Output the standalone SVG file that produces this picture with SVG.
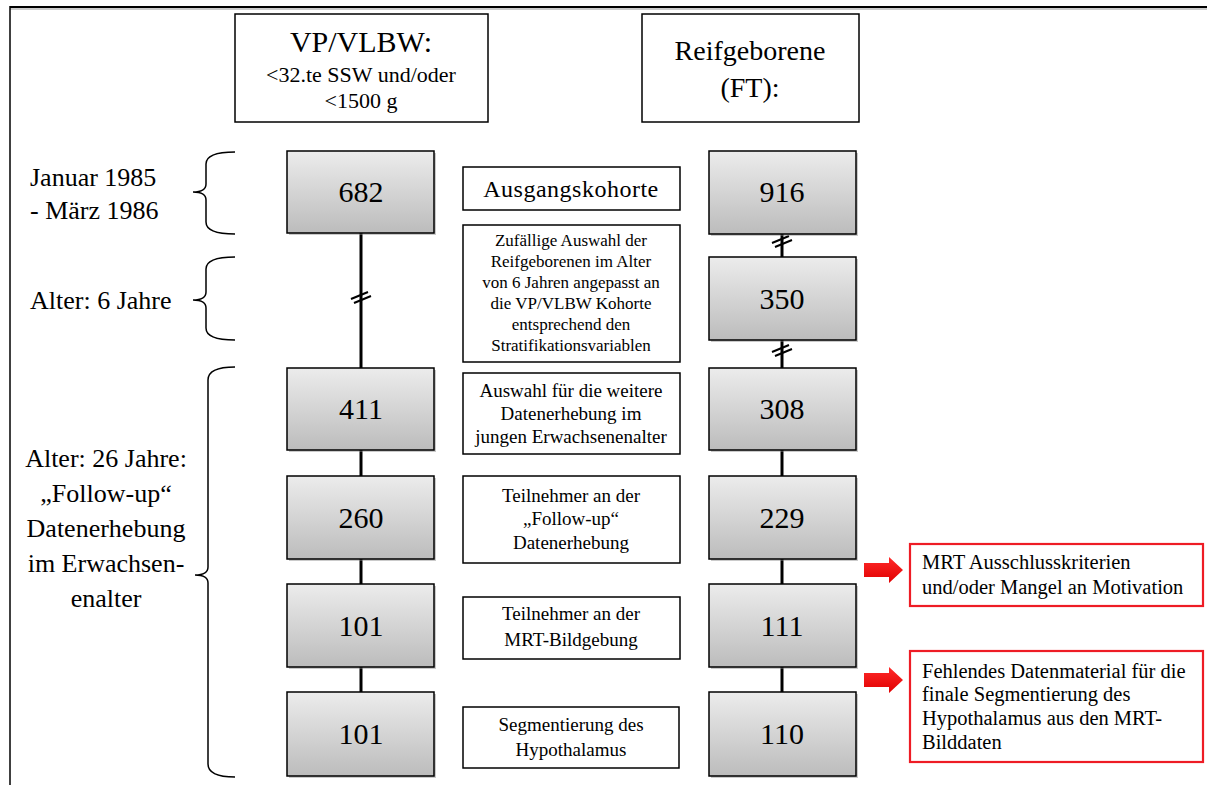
<svg xmlns="http://www.w3.org/2000/svg" width="1207" height="785" viewBox="0 0 1207 785">
<defs>
<linearGradient id="g" x1="0" y1="0" x2="0" y2="1">
<stop offset="0" stop-color="#ececec"/>
<stop offset="1" stop-color="#bcbcbc"/>
</linearGradient>
<linearGradient id="rg" x1="0" y1="0" x2="0" y2="1">
<stop offset="0" stop-color="#ff2a2a"/>
<stop offset="1" stop-color="#e00000"/>
</linearGradient>
</defs>
<style>
text{font-family:"Liberation Serif","Times New Roman",serif;fill:#000}
.num{font-size:30px;text-anchor:middle}
.hdr{fill:#fff;stroke:#000;stroke-width:1.5}
.gbox{fill:url(#g);stroke:#000;stroke-width:1.5}
.sh{fill:#8a8a8a;opacity:0.45}
.tbox{fill:#fff;stroke:#000;stroke-width:1.5}
.rbox{fill:#fff;stroke:#ee1c25;stroke-width:2.2}
.mid{text-anchor:middle}
.lbl{font-size:26px}
.br{fill:none;stroke:#000;stroke-width:1.5}
.con{stroke:#000;stroke-width:3;fill:none}
.brk{stroke:#000;stroke-width:2;fill:none}
.arr{fill:url(#rg)}
</style>
<rect width="1207" height="785" fill="#fff"/>
<g id="frame">
<line x1="10" y1="7" x2="1207" y2="7" stroke="#000" stroke-width="2"/>
<line x1="10" y1="9" x2="1207" y2="9" stroke="#999" stroke-width="1"/>
<line x1="10" y1="6" x2="10" y2="785" stroke="#000" stroke-width="1.5"/>
</g>
<g id="connectors">
<line class="con" x1="361" y1="233" x2="361" y2="368"/>
<line class="con" x1="361" y1="450" x2="361" y2="476"/>
<line class="con" x1="361" y1="559" x2="361" y2="584"/>
<line class="con" x1="361" y1="667" x2="361" y2="692"/>
<line class="con" x1="782" y1="234" x2="782" y2="257"/>
<line class="con" x1="782" y1="340" x2="782" y2="368"/>
<line class="con" x1="782" y1="450" x2="782" y2="476"/>
<line class="con" x1="782" y1="559" x2="782" y2="584"/>
<line class="con" x1="782" y1="667" x2="782" y2="692"/>
<path class="brk" d="M351,299 L368,292 M354,303 L371,296"/>
<path class="brk" d="M772,243 L789,236 M775,247 L792,240"/>
<path class="brk" d="M772,352 L789,345 M775,356 L792,349"/>
</g>
<g id="hdr-vp">
<rect class="hdr" x="235" y="14" width="253" height="108"/>
<text class="mid" x="361" y="52" font-size="30">VP/VLBW:</text>
<text class="mid" x="361" y="82" font-size="22">&lt;32.te SSW und/oder</text>
<text class="mid" x="361" y="108" font-size="22">&lt;1500 g</text>
</g>
<g id="hdr-ft">
<rect class="hdr" x="642" y="14" width="217" height="108"/>
<text class="mid" x="750" y="60" font-size="28">Reifgeborene</text>
<text class="mid" x="750" y="97" font-size="28">(FT):</text>
</g>
<g id="lbl-januar">
<text class="lbl" x="30" y="186" font-size="27">Januar 1985</text>
<text class="lbl" x="30" y="219" font-size="27">- März 1986</text>
<path class="br" d="M235,152 Q206,152 206,164 L206,184 Q206,192 193,192 Q206,192 206,200 L206,222 Q206,234 235,234"/>
</g>
<g id="lbl-6">
<text class="lbl" x="30" y="309">Alter: 6 Jahre</text>
<path class="br" d="M235,257 Q206,257 206,269 L206,292 Q206,300 193,300 Q206,300 206,308 L206,328 Q206,340 235,340"/>
</g>
<g id="lbl-26">
<text class="lbl mid" x="106" y="467">Alter: 26 Jahre:</text>
<text class="lbl mid" x="106" y="502">„Follow-up“</text>
<text class="lbl mid" x="106" y="537">Datenerhebung</text>
<text class="lbl mid" x="106" y="572">im Erwachsen-</text>
<text class="lbl mid" x="106" y="607">enalter</text>
<path class="br" d="M235,367 Q208,367 208,380 L208,567 Q208,575 195,575 Q208,575 208,583 L208,764 Q208,777 235,777"/>
</g>
<g id="n682"><rect class="sh" x="289" y="153" width="147" height="82"/><rect class="gbox" x="287" y="151" width="147" height="82"/><text class="num" x="361" y="202">682</text></g>
<g id="n411"><rect class="sh" x="289" y="370" width="147" height="82"/><rect class="gbox" x="287" y="368" width="147" height="82"/><text class="num" x="361" y="419">411</text></g>
<g id="n260"><rect class="sh" x="289" y="478" width="147" height="83"/><rect class="gbox" x="287" y="476" width="147" height="83"/><text class="num" x="361" y="528">260</text></g>
<g id="n101a"><rect class="sh" x="289" y="586" width="147" height="83"/><rect class="gbox" x="287" y="584" width="147" height="83"/><text class="num" x="361" y="636">101</text></g>
<g id="n101b"><rect class="sh" x="289" y="694" width="147" height="84"/><rect class="gbox" x="287" y="692" width="147" height="84"/><text class="num" x="361" y="744">101</text></g>
<g id="n916"><rect class="sh" x="711" y="153" width="147" height="83"/><rect class="gbox" x="709" y="151" width="147" height="83"/><text class="num" x="782" y="202">916</text></g>
<g id="n350"><rect class="sh" x="711" y="259" width="147" height="83"/><rect class="gbox" x="709" y="257" width="147" height="83"/><text class="num" x="782" y="309">350</text></g>
<g id="n308"><rect class="sh" x="711" y="370" width="147" height="82"/><rect class="gbox" x="709" y="368" width="147" height="82"/><text class="num" x="782" y="419">308</text></g>
<g id="n229"><rect class="sh" x="711" y="478" width="147" height="83"/><rect class="gbox" x="709" y="476" width="147" height="83"/><text class="num" x="782" y="528">229</text></g>
<g id="n111"><rect class="sh" x="711" y="586" width="147" height="83"/><rect class="gbox" x="709" y="584" width="147" height="83"/><text class="num" x="782" y="636">111</text></g>
<g id="n110"><rect class="sh" x="711" y="694" width="147" height="84"/><rect class="gbox" x="709" y="692" width="147" height="84"/><text class="num" x="782" y="744">110</text></g>
<g id="t-ausgang">
<rect class="tbox" x="463" y="167" width="217" height="43"/>
<text class="mid" x="571" y="197" font-size="24" letter-spacing="0.5">Ausgangskohorte</text>
</g>
<g id="t-zufall" font-size="17">
<rect class="tbox" x="463" y="225" width="217" height="137"/>
<text class="mid" x="571" y="246">Zufällige Auswahl der</text>
<text class="mid" x="571" y="267">Reifgeborenen im Alter</text>
<text class="mid" x="571" y="288">von 6 Jahren angepasst an</text>
<text class="mid" x="571" y="309">die VP/VLBW Kohorte</text>
<text class="mid" x="571" y="330">entsprechend den</text>
<text class="mid" x="571" y="351">Stratifikationsvariablen</text>
</g>
<g id="t-auswahl" font-size="19">
<rect class="tbox" x="463" y="373" width="217" height="81"/>
<text class="mid" x="571" y="397">Auswahl für die weitere</text>
<text class="mid" x="571" y="420">Datenerhebung im</text>
<text class="mid" x="571" y="443">jungen Erwachsenenalter</text>
</g>
<g id="t-teilfu" font-size="19">
<rect class="tbox" x="463" y="476" width="217" height="87"/>
<text class="mid" x="571" y="502">Teilnehmer an der</text>
<text class="mid" x="571" y="525">„Follow-up“</text>
<text class="mid" x="571" y="549">Datenerhebung</text>
</g>
<g id="t-teilmrt" font-size="19">
<rect class="tbox" x="463" y="597" width="217" height="62"/>
<text class="mid" x="571" y="620">Teilnehmer an der</text>
<text class="mid" x="571" y="646">MRT-Bildgebung</text>
</g>
<g id="t-segm" font-size="19">
<rect class="tbox" x="463" y="707" width="216" height="61"/>
<text class="mid" x="571" y="731">Segmentierung des</text>
<text class="mid" x="571" y="756">Hypothalamus</text>
</g>
<g id="r-ausschluss" font-size="20.5">
<polygon class="arr" points="864,563 889,563 889,557 903,570 889,583 889,577 864,577"/>
<rect class="rbox" x="910" y="544" width="293" height="62"/>
<text x="922" y="569">MRT Ausschlusskriterien</text>
<text x="922" y="594">und/oder Mangel an Motivation</text>
</g>
<g id="r-fehlend" font-size="20.5">
<polygon class="arr" points="864,673 889,673 889,667 903,680 889,693 889,687 864,687"/>
<rect class="rbox" x="910" y="651" width="293" height="111"/>
<text x="922" y="678">Fehlendes Datenmaterial für die</text>
<text x="922" y="701">finale Segmentierung des</text>
<text x="922" y="725">Hypothalamus aus den MRT-</text>
<text x="922" y="749">Bilddaten</text>
</g>
</svg>
